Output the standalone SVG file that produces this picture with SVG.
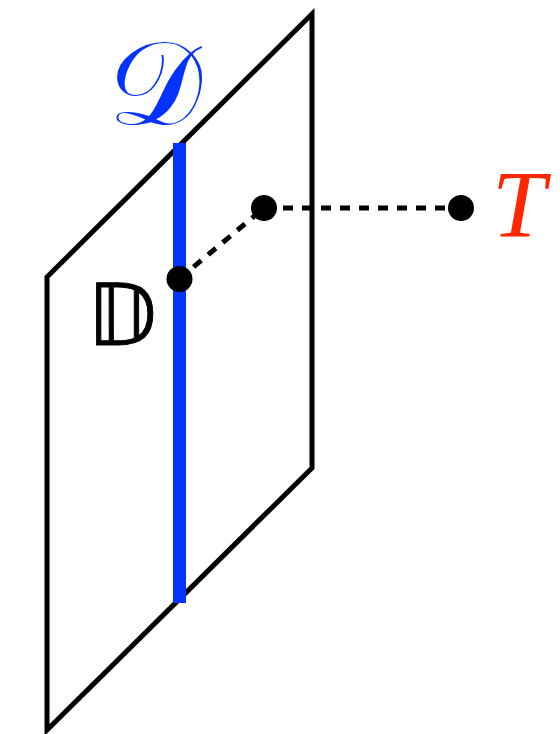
<svg xmlns="http://www.w3.org/2000/svg" width="560" height="734" viewBox="0 0 560 734">
<style>
.edge{fill:none;stroke:#000;stroke-width:5;stroke-linejoin:miter}
.dash{fill:none;stroke:#000;stroke-width:5;stroke-dasharray:10 9}
.dot{fill:#000}
</style>
<rect width="560" height="734" fill="#fff"/>
<g id="plane">
<path class="edge" d="M47,730 L47,277 L312,14 L312,468 Z"/>
</g>
<g id="line-D">
<line x1="179.5" y1="143" x2="179.5" y2="603" stroke="#0433ff" stroke-width="13"/>
</g>
<g id="connectors">
<path class="dash" d="M179,279 L264,208"/>
<path class="dash" d="M264,208 L461,208"/>
</g>
<g id="node-D"><circle class="dot" cx="179.5" cy="279" r="13"/></g>
<g id="node-mid"><circle class="dot" cx="264" cy="208" r="13"/></g>
<g id="node-T"><circle class="dot" cx="461" cy="208" r="13"/></g>
<g id="labels">
<text x="108" y="124" font-family="DejaVu Serif, DejaVu Sans, serif" font-size="118" fill="#0433ff">𝒟</text>
<text x="87" y="345" font-family="DejaVu Sans, sans-serif" font-size="85" fill="#000" stroke="#000" stroke-width="1">𝔻</text>
<text x="492" y="237" font-family="Liberation Serif, serif" font-style="italic" font-size="96" fill="#ff2600">T</text>
</g>
</svg>
